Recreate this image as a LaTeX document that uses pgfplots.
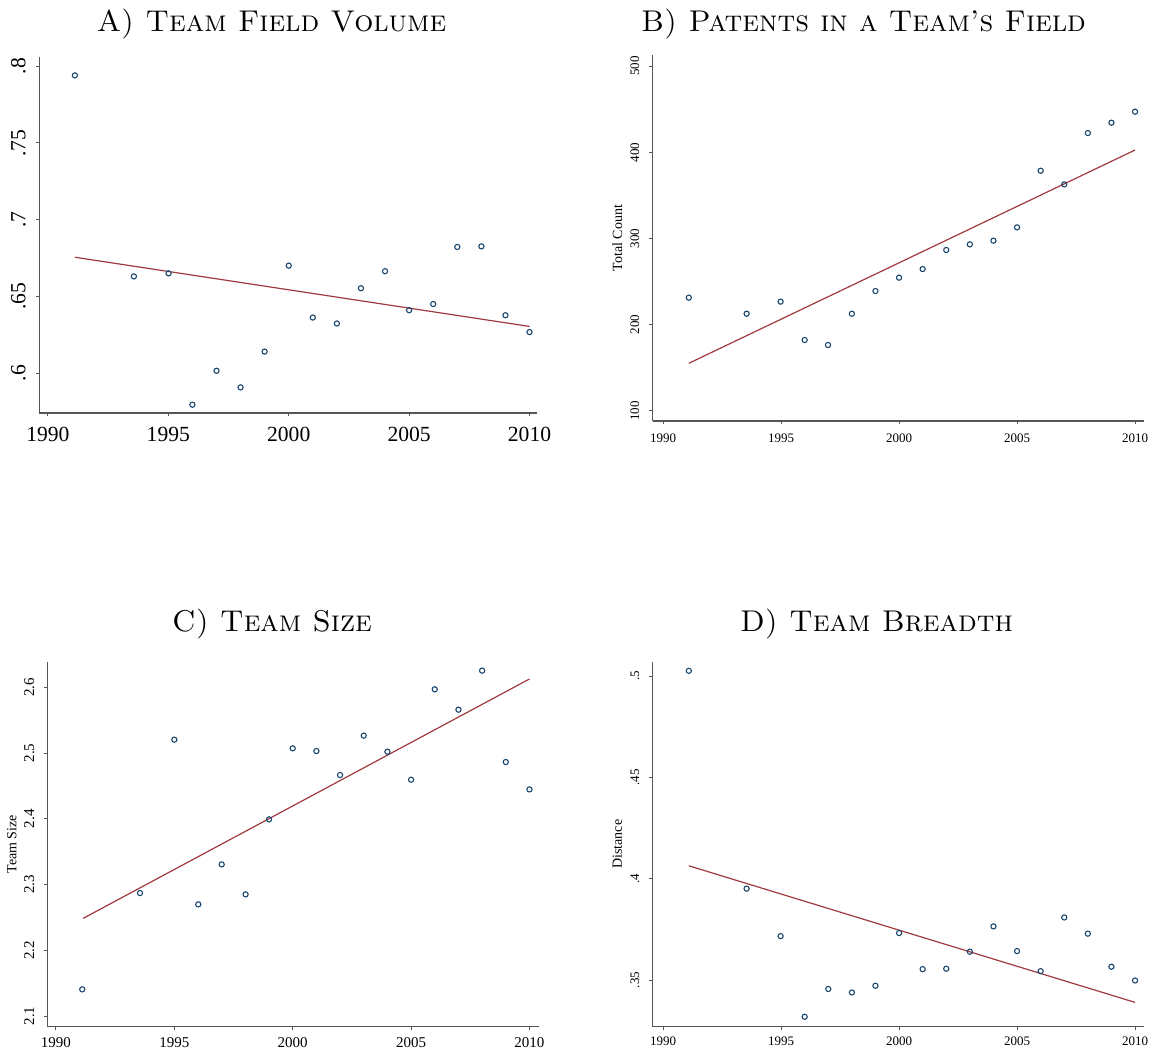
\documentclass[border=0pt]{standalone}
\usepackage{fontspec}
\newfontfamily\tnr{Liberation Serif}
\usepackage{pgfplots}
\usepackage{pgfplotstable}
\pgfplotsset{compat=1.18}
\definecolor{statanavy}{HTML}{1A476F}
\definecolor{statamaroon}{HTML}{A03A3F}
\definecolor{axisgray}{HTML}{555555}

% Panel A: Team Field Volume
\pgfplotstableread{
year val
1991.12 0.794
1993.57 0.663
1995.01 0.665
1996.00 0.5794
1997.00 0.6015
1998.00 0.5907
1999.00 0.614
2000.00 0.670
2001.00 0.6362
2002.00 0.6323
2003.00 0.6553
2004.00 0.6664
2005.00 0.641
2006.00 0.645
2007.00 0.6822
2008.00 0.6826
2009.00 0.6377
2010.00 0.6267
}\dataA
\pgfplotstableread{
year val
1991.12 0.6755
2010.00 0.6304
}\fitA

% Panel B: Patents in a Team's Field
\pgfplotstableread{
year val
1991.09 231.4
1993.54 212.8
1994.98 226.8
1996.00 182.3
1996.99 176.5
1998.00 212.8
1999.00 239.1
2000.00 254.6
2001.00 264.6
2002.00 286.7
2003.00 293.2
2004.00 297.5
2005.00 312.9
2006.00 378.6
2007.00 362.8
2008.00 422.3
2009.00 434.3
2010.00 447.1
}\dataB
\pgfplotstableread{
year val
1991.09 155.3
2010.00 402.6
}\fitB

% Panel C: Team Size
\pgfplotstableread{
year val
1991.11 2.1406
1993.55 2.2871
1995.00 2.5204
1996.01 2.2699
1997.00 2.3307
1998.01 2.2851
1999.00 2.3992
2000.00 2.5072
2001.00 2.5031
2002.00 2.4666
2003.00 2.5265
2004.00 2.5021
2005.00 2.4595
2006.00 2.5970
2007.00 2.5660
2008.00 2.6254
2009.00 2.4864
2010.00 2.4448
}\dataC
\pgfplotstableread{
year val
1991.15 2.2486
2010.00 2.6127
}\fitC

% Panel D: Team Breadth
\pgfplotstableread{
year val
1991.09 0.5026
1993.54 0.3951
1994.98 0.3717
1996.00 0.3319
1997.00 0.3456
1998.00 0.3439
1999.00 0.3472
2000.00 0.3732
2001.00 0.3554
2002.00 0.3556
2003.00 0.3640
2004.00 0.3765
2005.00 0.3643
2006.00 0.3544
2007.00 0.3809
2008.00 0.3729
2009.00 0.3566
2010.00 0.3498
}\dataD
\pgfplotstableread{
year val
1991.09 0.4064
2010.00 0.3390
}\fitD

\pgfplotsset{
  panel/.style={
    scale only axis,
    anchor=south west,
    axis x line*=bottom,
    axis y line*=left,
    axis line style={axisgray, line width=0.6pt},
    tick style={axisgray, line width=0.5pt},
    tick align=outside,
    major tick length=1.7pt,
    xtick={1990,1995,2000,2005,2010},
    xticklabels={1990,1995,2000,2005,2010},
    xticklabel style={inner sep=0pt, anchor=north},
    yticklabel style={rotate=90, anchor=south, inner sep=0pt},
    /pgf/number format/assume math mode=true,
    every axis y label/.style={at={(axis description cs:-0.072,0.5)}, rotate=90, anchor=center, font=\tnr\fontsize{7}{8}\selectfont},
    clip=false,
  },
  dots/.style={only marks, mark=o, mark size=1.3pt, mark options={statanavy, line width=0.55pt}},
  fitline/.style={no marks, statamaroon, line width=0.6pt},
}

\begin{document}
\begin{tikzpicture}
\path[use as bounding box] (0,0) rectangle (578.5pt,527.5pt);

% Titles
\node[anchor=base] at (135.75pt,511.5pt) {\fontsize{15}{18}\selectfont\textsc{A) Team Field Volume}};
\node[anchor=base] at (431.75pt,511.5pt) {\fontsize{15}{18}\selectfont\textsc{B) Patents in a Team’s Field}};
\node[anchor=base] at (136pt,211.5pt) {\fontsize{15}{18}\selectfont\textsc{C) Team Size}};
\node[anchor=base] at (438.25pt,211.5pt) {\fontsize{15}{18}\selectfont\textsc{D) Team Breadth}};

% Panel A
\begin{axis}[panel,
  at={(19.75pt,321pt)}, width=248.75pt, height=178pt,
  xmin=1989.65, xmax=2010.31, ymin=0.574, ymax=0.806,
  ytick={0.6,0.65,0.7,0.75,0.8},
  yticklabels={.6,.65,.7,.75,.8},
  ticklabel style={font=\tnr\fontsize{10.8}{12}\selectfont},
  xticklabel shift=5pt, yticklabel shift=5pt,
]
\addplot[dots] table[x=year,y=val] {\dataA};
\addplot[fitline] table[x=year,y=val] {\fitA};
\end{axis}

% Panel B
\begin{axis}[panel,
  at={(326.35pt,317pt)}, width=245.65pt, height=183pt,
  xmin=1989.56, xmax=2010.38, ymin=88.4, ymax=512.8,
  ytick={100,200,300,400,500},
  yticklabels={100,200,300,400,500},
  ticklabel style={font=\tnr\fontsize{6.5}{7.5}\selectfont},
  xticklabel shift=4.3pt, yticklabel shift=4.8pt,
  ylabel={Total Count},
]
\addplot[dots] table[x=year,y=val] {\dataB};
\addplot[fitline] table[x=year,y=val] {\fitB};
\end{axis}

% Panel C
\begin{axis}[panel,
  at={(23.6pt,14.15pt)}, width=245.75pt, height=182.5pt,
  xmin=1989.63, xmax=2010.39, ymin=2.0838, ymax=2.639,
  ytick={2.1,2.2,2.3,2.4,2.5,2.6},
  yticklabels={2.1,2.2,2.3,2.4,2.5,2.6},
  ticklabel style={font=\tnr\fontsize{7.5}{8.5}\selectfont},
  xticklabel shift=3.3pt, yticklabel shift=4.5pt,
  ylabel={Team Size},
]
\addplot[dots] table[x=year,y=val] {\dataC};
\addplot[fitline] table[x=year,y=val] {\fitC};
\end{axis}

% Panel D
\begin{axis}[panel,
  at={(326.35pt,14.15pt)}, width=245.65pt, height=182.5pt,
  xmin=1989.56, xmax=2010.38, ymin=0.327, ymax=0.5071,
  ytick={0.35,0.4,0.45,0.5},
  yticklabels={.35,.4,.45,.5},
  ticklabel style={font=\tnr\fontsize{6.5}{7.5}\selectfont},
  xticklabel shift=3.3pt, yticklabel shift=4.8pt,
  ylabel={Distance},
]
\addplot[dots] table[x=year,y=val] {\dataD};
\addplot[fitline] table[x=year,y=val] {\fitD};
\end{axis}
\end{tikzpicture}
\end{document}
